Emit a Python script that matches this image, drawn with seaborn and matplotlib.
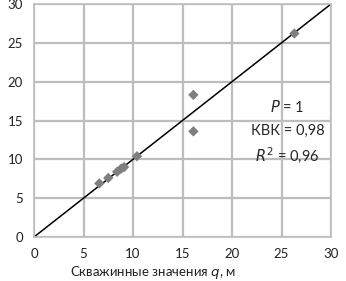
import numpy as np
import pandas as pd
import seaborn as sns
import matplotlib.pyplot as plt

# Well values vs model values
well_q = [6.6, 7.5, 8.4, 8.8, 9.1, 10.4, 16.1, 16.1, 26.3]
model_q = [6.9, 7.6, 8.4, 8.8, 9.0, 10.4, 18.3, 13.6, 26.2]
ticks = [0, 5, 10, 15, 20, 25, 30]

df = pd.DataFrame({'well': well_q, 'model': model_q})

sns.set_style('white')
plt.rcParams['font.family'] = ['Lato', 'DejaVu Sans']

fig = plt.figure(figsize=(3.46, 2.81), dpi=100)
ax = fig.add_axes([34 / 346, 44 / 281, 297 / 346, 233 / 281])

sns.scatterplot(data=df, x='well', y='model', marker='D', s=28, color='#7f7f7f',
                edgecolor='none', ax=ax, zorder=3)
ax.plot([0, 30], [0, 30], color='black', lw=1.1, zorder=2)

ax.set_xlim(0, 30)
ax.set_ylim(0, 30)
ax.set_xticks(ticks)
ax.set_yticks(ticks)
ax.grid(True, color='#bdbdbd', lw=1.6)
for s in ax.spines.values():
    s.set_color('#bdbdbd')
    s.set_linewidth(1.2)
ax.tick_params(length=0, labelsize=9.5, pad=8, colors='#222222')
ax.set_xlabel('Скважинные значения $q$, м', fontsize=9.5, color='#222222')
ax.xaxis.set_label_coords((153 - 34) / 297, -0.118)
ax.set_ylabel('')

ax.text(25.6, 16.7, '$P$ = 1', fontsize=10.5, ha='center', va='center')
ax.text(25.6, 13.6, 'КВК = 0,98', fontsize=10.5, ha='center', va='center')
ax.text(25.6, 10.6, '$R^2$ = 0,96', fontsize=10.5, ha='center', va='center')

plt.savefig('out.png', dpi=100)
